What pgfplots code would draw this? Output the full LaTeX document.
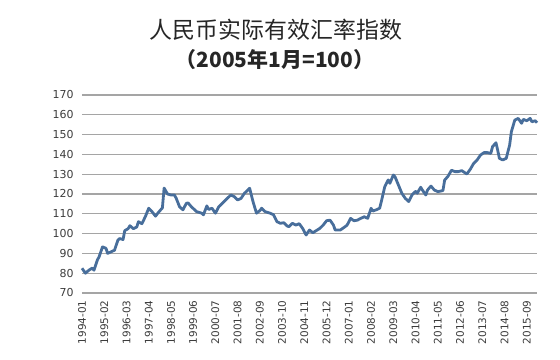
\documentclass[border=0pt]{standalone}
\usepackage{fontspec}
\setmainfont{DejaVu Sans}
\newfontfamily\cjk{Noto Sans CJK SC}
\usepackage{pgfplots}
\pgfplotsset{compat=1.18}
\definecolor{linec}{RGB}{72,110,155}
\definecolor{gridc}{RGB}{165,165,165}
\definecolor{txt}{RGB}{60,60,60}
\begin{document}
\begin{tikzpicture}
\path[use as bounding box] (-82bp,-67bp) rectangle (478bp,293bp);
\begin{axis}[
  at={(0,0)}, anchor=south west,
  scale only axis, width=455bp, height=198bp,
  xmin=0, xmax=266, ymin=70, ymax=170,
  ytick={70,80,...,170},
  xtick={0,13,...,260},
  xticklabels={1994-01,1995-02,1996-03,1997-04,1998-05,1999-06,2000-07,2001-08,2002-09,2003-10,2004-11,2005-12,2007-01,2008-02,2009-03,2010-04,2011-05,2012-06,2013-07,2014-08,2015-09},
  x tick label style={rotate=90, anchor=east, font=\fontsize{10.5}{12}\selectfont, text=txt},
  y tick label style={font=\fontsize{11}{13}\selectfont, text=txt},
  /pgf/number format/assume math mode=true,
  ymajorgrids, major grid style={gridc, line width=1.1bp},
  axis line style={draw=none},
  major tick length=0pt,
  xticklabel shift=4bp, yticklabel shift=5bp,
  clip=false,
]
\addplot[linec, line width=2.8bp, line join=round] coordinates {
(0,82.5)(2,80)(4,81.5)(6,82.6)(7,81.5)(9,86.7)(10,88.3)(12,93.3)(14,92.6)(15,90)
(17,90.8)(19,91.6)(21,96.7)(22,97.5)(24,97)(25,101.5)(27,102.5)(28,104)(30,102.5)
(32,103.3)(33,106)(35,105)(37,108.5)(39,112.8)(41,111)(43,108.8)(44,110)(46,112)
(47,113)(48,123)(50,120)(52,119.5)(54,119.5)(55,118)(57,113.6)(59,112)(61,115.3)
(62,115.5)(64,113.5)(67,111.1)(70,110.3)(71,109.5)(73,114)(74,112.2)(76,112.8)(78,110.3)
(80,113.6)(82,115.3)(84,117)(87,119.5)(89,118.7)(91,117)(93,117.8)(95,120.4)(98,122.9)
(100,116.1)(102,110.3)(104,111.6)(105,112.8)(107,111.1)(110,110.3)(112,109.5)(114,106)
(116,105.2)(118,105.5)(120,103.8)(121,103.5)(123,105.2)(125,104.3)(127,105)(129,102.6)
(131,99.3)(133,101.8)(135,100.4)(136,101)(139,102.6)(141,104.3)(143,106.5)(145,106.8)
(147,104.3)(148,101.8)(151,101.8)(153,103)(155,104.3)(157,107.7)(159,106.5)(161,106.8)
(163,107.7)(165,108.5)(167,107.7)(169,112.8)(170,111.4)(172,112)(174,112.8)(175,116.2)
(177,123.7)(179,127.1)(180,125.4)(182,129.6)(183,128.7)(185,124.5)(187,120.3)(189,117.8)
(191,116.2)(193,119.6)(195,121.3)(196,120.4)(198,123.4)(199,122)(201,119.5)(202,122)
(204,124)(206,122)(208,121.2)(211,121.7)(212,127)(214,129)(216,132)(218,131.3)
(220,131.3)(222,131.8)(225,130.1)(227,132.5)(229,135.5)(231,137.2)(233,139.7)(235,140.9)
(237,140.9)(239,140.5)(240,143.9)(242,145.9)(243,142.2)(244,138)(246,137.2)(248,138)
(250,144.7)(251,151.4)(253,157.3)(255,158.2)(257,155.7)(258,157.7)(260,157)(262,158.2)
(263,156.5)(265,157)(266,156)
};
\end{axis}
\node[font=\cjk\fontsize{23}{26}\selectfont, text=black!85] at (194bp,263bp) {人民币实际有效汇率指数};
\node[font=\cjk\bfseries\fontsize{21}{24}\selectfont, text=black!85] at (193bp,233bp) {（2005年1月=100）};
\end{tikzpicture}
\end{document}
